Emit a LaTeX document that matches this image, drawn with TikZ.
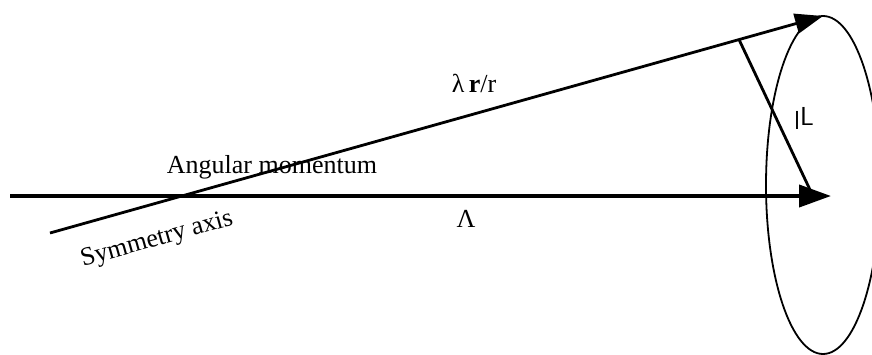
\documentclass[tikz,border=0pt]{standalone}
\usepackage{fontspec}
\setmainfont{Liberation Serif}
\usetikzlibrary{arrows.meta}
\begin{document}
\begin{tikzpicture}[
    x=0.5pt, y=-0.5pt,
    axis/.style={-{Triangle[length=16pt, width=11pt]}, line width=2pt},
    vec/.style={-{Triangle[length=14pt, width=10pt]}, line width=1.4pt},
    plain/.style={line width=1.4pt},
    cone/.style={line width=0.9pt},
    label/.style={font=\fontsize{13}{15}\selectfont, inner sep=1pt}
]
    \useasboundingbox (0,0) rectangle (872,354);
    \clip (0,0) rectangle (872,354);

    % Points
    \coordinate (A0) at (10,196);
    \coordinate (A1) at (831,196);
    \coordinate (R0) at (50,233);
    \coordinate (R1) at (823,16);
    \coordinate (F) at (739,39.5);
    \coordinate (Ltip) at (812,194);
    \coordinate (C) at (823,185);

    % Precession cone
    \draw[cone] (C) ellipse [x radius=57, y radius=169];

    % Vectors
    \draw[axis] (A0) -- (A1);
    \draw[vec] (R0) -- (R1);
    \draw[plain] (F) -- (Ltip);

    % Labels
    \node[label] (lr) at (474,83) {λ\,\textbf{r}/r};
    \node[label] (am) at (272,167) {Angular momentum};
    \node[label, rotate=15.7] (sa) at (157,240) {Symmetry axis};
    \node[label] (lam) at (466,219) {Λ};
    \node[font=\fontsize{13}{15}\sffamily, inner sep=1pt] (lv) at (804,118) {\raisebox{-2pt}{l}L};
\end{tikzpicture}
\end{document}
